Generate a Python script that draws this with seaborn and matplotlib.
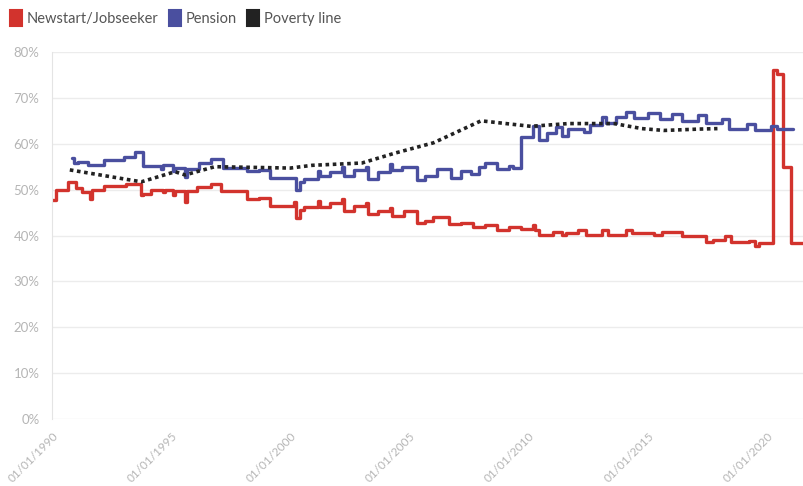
import matplotlib
matplotlib.use("Agg")
import matplotlib.pyplot as plt
import matplotlib.dates as mdates
import matplotlib.transforms as mtransforms
from matplotlib.patches import Patch
import pandas as pd
import seaborn as sns

# Newstart / Jobseeker as share of reference wage (%)
newstart_dates = [
    "1990-01", "1990-03", "1990-09", "1991-01", "1991-04", "1991-08", "1991-09",
    "1992-03", "1993-02", "1993-10", "1993-11", "1994-03", "1994-09", "1994-10",
    "1995-02", "1995-03", "1995-08", "1995-09", "1996-02", "1996-09", "1997-02",
    "1998-03", "1998-09", "1999-03", "2000-03", "2000-04", "2000-06", "2000-08",
    "2001-03", "2001-04", "2001-09", "2002-03", "2002-04", "2002-09", "2003-03",
    "2003-04", "2003-09", "2004-03", "2004-04", "2004-10", "2005-05", "2005-09",
    "2006-01", "2006-09", "2007-03", "2007-09", "2008-03", "2008-09", "2009-03",
    "2009-09", "2010-03", "2010-04", "2010-06", "2011-01", "2011-06", "2011-08",
    "2012-02", "2012-06", "2013-02", "2013-05", "2014-02", "2014-05", "2015-04",
    "2015-08", "2016-06", "2017-06", "2017-10", "2018-04", "2018-07", "2019-04",
    "2019-07", "2019-09", "2020-04", "2020-06", "2020-09", "2021-01", "2021-08",
]
newstart_values = [
    47.7, 49.9, 51.7, 50.3, 49.5, 48.0, 49.9,
    50.8, 51.2, 48.8, 49.0, 49.9, 49.4, 50.0,
    48.8, 49.7, 47.3, 49.7, 50.5, 51.2, 49.6,
    48.0, 48.2, 46.5, 47.3, 43.8, 45.5, 46.3,
    47.5, 46.3, 47.0, 47.9, 45.3, 46.4, 47.0,
    44.7, 45.4, 45.9, 44.2, 45.3, 42.8, 43.1,
    44.0, 42.4, 42.8, 41.8, 42.3, 41.3, 41.8,
    41.5, 42.2, 41.3, 40.1, 40.8, 40.1, 40.6,
    41.3, 40.1, 41.2, 40.2, 41.2, 40.6, 40.1,
    40.8, 40.0, 38.6, 39.0, 39.8, 38.5, 38.9,
    37.7, 38.3, 76.0, 75.2, 55.0, 38.3, 38.3,
]

# Pension (%)
pension_dates = [
    "1990-11", "1990-12", "1991-02", "1991-07", "1992-03", "1993-01", "1993-07",
    "1993-11", "1994-08", "1994-09", "1995-02", "1995-03", "1995-08", "1995-09",
    "1996-03", "1996-09", "1997-03", "1998-03", "1998-09", "1999-03", "2000-04",
    "2000-06", "2000-08", "2001-03", "2001-04", "2001-09", "2002-03", "2002-04",
    "2002-09", "2003-03", "2003-04", "2003-09", "2004-03", "2004-04", "2004-09",
    "2005-05", "2005-09", "2006-03", "2006-10", "2007-03", "2007-08", "2007-12",
    "2008-03", "2008-09", "2009-03", "2009-05", "2009-09", "2010-03", "2010-06",
    "2010-10", "2011-03", "2011-06", "2011-09", "2012-05", "2012-08", "2013-02",
    "2013-04", "2013-09", "2014-02", "2014-06", "2015-01", "2015-07", "2016-01",
    "2016-06", "2017-02", "2017-06", "2018-02", "2018-06", "2019-03", "2019-07",
    "2020-03", "2020-06", "2021-02",
]
pension_values = [
    57.0, 55.9, 56.1, 55.3, 56.4, 57.1, 58.1,
    55.1, 54.6, 55.3, 54.0, 54.8, 52.8, 54.6,
    55.9, 56.6, 54.8, 54.0, 54.2, 52.6, 49.9,
    51.7, 52.4, 54.0, 52.9, 53.8, 55.0, 53.0,
    54.2, 55.0, 52.4, 53.9, 55.6, 54.2, 55.0,
    52.2, 52.9, 54.6, 52.6, 54.1, 53.4, 55.0,
    55.9, 54.4, 55.1, 54.8, 61.4, 63.8, 60.9,
    62.4, 63.7, 61.6, 63.2, 62.5, 64.0, 65.9,
    64.5, 65.9, 67.0, 65.7, 66.6, 65.4, 66.4,
    65.0, 66.2, 64.6, 65.5, 63.3, 64.4, 62.9,
    63.8, 63.3, 63.3,
]

# Poverty line (%)
poverty_dates = [
    "1990-10", "1993-10", "1995-03", "1995-08", "1996-11", "2000-01", "2000-12",
    "2003-01", "2004-06", "2006-01", "2008-01", "2010-02", "2011-09", "2013-08",
    "2014-10", "2015-09", "2017-03", "2017-12",
]
poverty_values = [
    54.3, 51.7, 53.9, 53.2, 55.0, 54.7, 55.3,
    55.8, 58.0, 60.2, 65.0, 63.8, 64.4, 64.4,
    63.3, 62.9, 63.2, 63.3,
]

series_labels = ["Newstart/Jobseeker", "Pension", "Poverty line"]
series_colors = ["#d2332d", "#4a4f9f", "#222222"]
tick_years = [1990, 1995, 2000, 2005, 2010, 2015, 2020]
y_ticks = [0, 10, 20, 30, 40, 50, 60, 70, 80]

sns.set_style("white")
plt.rcParams["font.family"] = ["Lato", "DejaVu Sans"]

fig = plt.figure(figsize=(8.04, 4.86), dpi=100)
ax = fig.add_axes([52 / 804, 1 - 419 / 486, 1 - 52 / 804, (419 - 52) / 486])

sns.lineplot(x=pd.to_datetime(newstart_dates), y=newstart_values, ax=ax,
             color=series_colors[0], lw=2.4, drawstyle="steps-post")
sns.lineplot(x=pd.to_datetime(pension_dates), y=pension_values, ax=ax,
             color=series_colors[1], lw=2.4, drawstyle="steps-post")
sns.lineplot(x=pd.to_datetime(poverty_dates), y=poverty_values, ax=ax,
             color=series_colors[2], lw=2.6, linestyle=(0, (1, 1)))

ax.set_xlim(pd.Timestamp("1990-01-01"), pd.Timestamp("2021-07-19"))
ax.set_ylim(0, 80)
ax.set_xticks([pd.Timestamp(f"{y}-01-01") for y in tick_years])
ax.xaxis.set_major_formatter(mdates.DateFormatter("%d/%m/%Y"))
ax.set_yticks(y_ticks)
ax.set_yticklabels([f"{v}%" for v in y_ticks])
ax.set_xlabel("")
ax.set_ylabel("")

ax.yaxis.grid(True, color="#ececec", lw=1)
ax.xaxis.grid(False)
for s in ["top", "right", "bottom"]:
    ax.spines[s].set_visible(False)
ax.spines["left"].set_color("#e4e4e4")
ax.tick_params(axis="x", length=5, color="#e4e4e4", labelcolor="#b5b5b5",
               labelsize=8.5, pad=6)
ax.tick_params(axis="y", length=5, color="#e4e4e4", labelcolor="#b5b5b5",
               labelsize=9.5, pad=4)
shift = mtransforms.ScaledTranslation(4 / 100, 0, fig.dpi_scale_trans)
for lab in ax.get_xticklabels():
    lab.set_rotation(45)
    lab.set_ha("right")
    lab.set_va("center")
    lab.set_rotation_mode("anchor")
    lab.set_transform(lab.get_transform() + shift)

handles = [Patch(facecolor=c, edgecolor=c, lw=1.5, joinstyle="round")
           for c in series_colors]
fig.legend(handles, series_labels, loc="upper left", bbox_to_anchor=(0.0, 1.0),
           ncol=3, frameon=False, handlelength=0.8, handleheight=1.3,
           handletextpad=0.35, columnspacing=0.7, fontsize=10.5,
           labelcolor="#555555", borderaxespad=0.3)

fig.savefig("out.png", dpi=100)
